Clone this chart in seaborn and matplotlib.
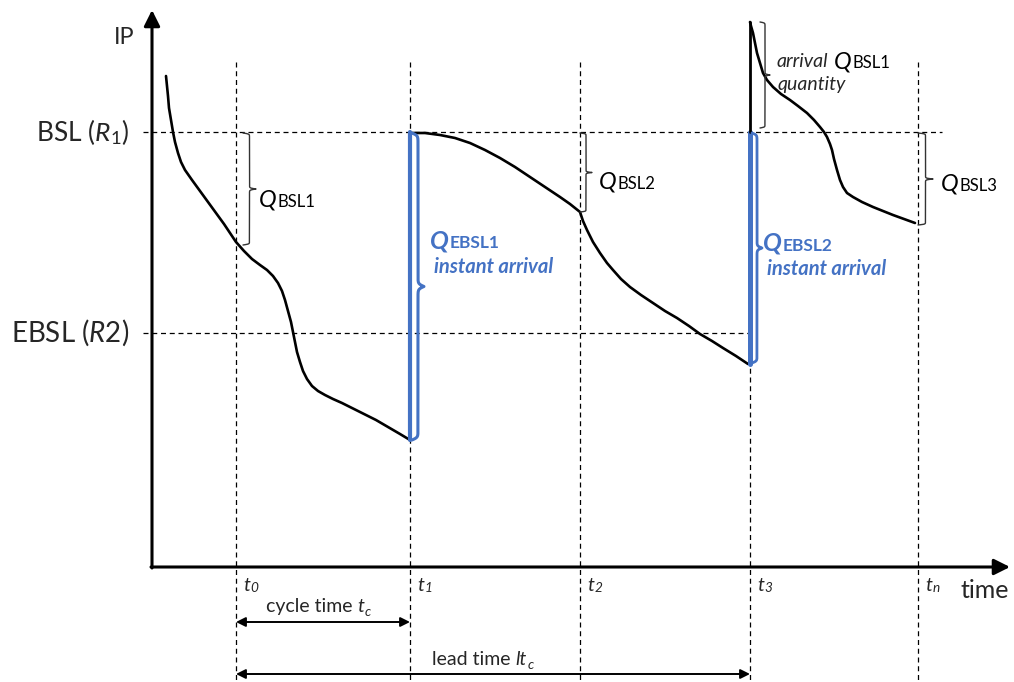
import numpy as np
import pandas as pd
import matplotlib
matplotlib.use("Agg")
import matplotlib.pyplot as plt
import seaborn as sns

# diagram drawn in picture units: x = time position, y = IP level (downwards)
t_pos = [236, 410, 580, 750, 918]
t_names = ["0", "1", "2", "3", "n"]
bsl_level = 132
ebsl_level = 333

seg1_x = [166, 167, 168, 169, 171, 173, 175, 178, 181, 185, 192, 200, 208, 216, 224, 230, 236,
          244, 252, 260, 267, 273, 278, 282, 285, 288, 291, 293, 295, 297, 300, 303, 307, 312, 318,
          325, 333, 342, 352, 364, 376, 388, 400, 410]
seg1_y = [76, 86, 96, 108, 120, 132, 142, 153, 162, 170, 180, 191, 202, 213, 224, 233, 242,
          251, 259, 265, 270, 276, 283, 291, 300, 311, 322, 332, 342, 352, 362, 371, 379, 386, 391,
          395, 399, 403, 408, 414, 420, 427, 434, 440]

seg2_x = [410, 425, 440, 455, 470, 485, 500, 515, 530, 545, 560, 570, 580, 583, 587, 593, 600, 607,
          613, 621, 630, 641, 653, 665, 677, 689, 700, 712, 723, 736, 748]
seg2_y = [133, 133, 135, 138, 143, 150, 158, 167, 177, 187, 197, 204, 212, 221, 230, 242, 253, 263,
          270, 279, 287, 295, 303, 311, 318, 326, 334, 341, 348, 356, 364]

seg3_x = [750, 751, 753, 755, 757, 760, 763, 767, 773, 781, 790, 798, 807, 814, 820, 824, 827, 830,
          832, 834, 837, 840, 843, 847, 853, 862, 873, 883, 893, 904, 915]
seg3_y = [22, 26, 33, 43, 53, 63, 73, 80, 87, 94, 100, 106, 113, 120, 127, 132, 137, 144,
          150, 159, 170, 180, 187, 193, 197, 202, 207, 211, 215, 219, 223]

blue = "#4472C4"

sns.set_style("white")
plt.rcParams["font.family"] = ["Lato", "DejaVu Sans"]
plt.rcParams["mathtext.fontset"] = "custom"
plt.rcParams["mathtext.rm"] = "Lato"
plt.rcParams["mathtext.it"] = "Lato:italic"
plt.rcParams["mathtext.bf"] = "Lato:bold"

fig = plt.figure(figsize=(10.14, 6.82), dpi=100)
ax = fig.add_axes([0, 0, 1, 1])
ax.set_xlim(0, 1014)
ax.set_ylim(682, 0)
ax.axis("off")


def brace(x0, y0, y1, w, color="#333333", lw=1.0):
    span = y1 - y0
    half = np.linspace(0, span / 2, 200)
    beta = 240.0 / span
    xh = 1 / (1 + np.exp(-beta * (half - half[0]))) + 1 / (1 + np.exp(-beta * (half - half[-1])))
    xs = np.concatenate([xh, xh[::-1]])
    ys = np.concatenate([half, half + span / 2])
    ax.plot(x0 + (xs - 0.5) * w, y0 + ys, color=color, lw=lw, solid_capstyle="round")


def qlabel(x, y, sub, size=17, subsize=12, color="black", weight="normal"):
    q = ax.text(x, y, "Q", fontsize=size, style="italic", weight=weight, color=color,
                ha="left", va="baseline")
    ax.annotate(sub, xy=(1, 0), xycoords=q, xytext=(0.5, 1), textcoords="offset points",
                fontsize=subsize, weight=weight, color=color, ha="left", va="bottom")
    return q


def tlabel(x, y, name, size=14):
    t = ax.text(x, y, "t", fontsize=size, style="italic", ha="left", va="baseline")
    ax.annotate(name, xy=(1, 0), xycoords=t, xytext=(0.5, 0), textcoords="offset points",
                fontsize=size * 0.7, style="italic", ha="left", va="bottom")


def with_sub(x, y, plain, ital, sub, size=14):
    p = ax.text(x, y, plain, fontsize=size, ha="left", va="baseline")
    it = ax.annotate(ital, xy=(1, 0), xycoords=p, xytext=(0, 0), textcoords="offset points",
                     fontsize=size, style="italic", ha="left", va="bottom")
    ax.annotate(sub, xy=(1, 0), xycoords=it, xytext=(0.3, -2.5), textcoords="offset points",
                fontsize=size * 0.7, style="italic", ha="left", va="bottom")


# guide lines
dash = dict(color="black", lw=0.9, ls=(0, (4, 3)))
ax.plot([143, 942], [bsl_level, bsl_level], **dash)
ax.plot([143, 752], [ebsl_level, ebsl_level], **dash)
for i, x in enumerate(t_pos):
    top = 132 if i == 3 else 62
    ax.plot([x, x], [top, 682], **dash)

# axes with arrows
ax.annotate("", xy=(152, 10), xytext=(152, 568),
            arrowprops=dict(arrowstyle="-|>", lw=2.2, color="black", mutation_scale=24, shrinkA=0, shrinkB=0))
ax.annotate("", xy=(1010, 567), xytext=(151, 567),
            arrowprops=dict(arrowstyle="-|>", lw=2.2, color="black", mutation_scale=24, shrinkA=0, shrinkB=0))

# inventory curves
for sx, sy in [(seg1_x, seg1_y), (seg2_x, seg2_y), (seg3_x, seg3_y)]:
    df = pd.DataFrame({"time": sx, "IP": sy})
    sns.lineplot(data=df, x="time", y="IP", sort=False, color="black", lw=1.9, ax=ax)

# arrivals
ax.plot([t_pos[1], t_pos[1]], [seg1_y[-1], bsl_level], color=blue, lw=3.0, solid_capstyle="round")
ax.plot([t_pos[3], t_pos[3]], [seg2_y[-1], bsl_level], color=blue, lw=3.6, solid_capstyle="round")
ax.plot([t_pos[3], t_pos[3]], [bsl_level, seg3_y[0]], color="black", lw=2.0)

# braces
brace(243, 133, 245, 13)
brace(580, 133, 212, 12)
brace(760, 22, 128, 10)
brace(918, 133, 225, 15)
brace(412, 133, 440, 12, color=blue, lw=2.2)
brace(752, 133, 363, 10, color=blue, lw=2.0)

# labels
ax.text(124, 38, "IP", fontsize=17, ha="center", va="center")
ax.text(129, bsl_level, r"BSL ($\mathit{R}_{\mathit{1}}$)", fontsize=19, ha="right", va="center")
ax.text(129, ebsl_level, r"EBSL ($\mathit{R2}$)", fontsize=20, ha="right", va="center")

qlabel(259, 207, "BSL1")
qlabel(599, 189, "BSL2")
qlabel(941, 191, "BSL3")
ax.text(777, 67, "arrival", fontsize=14, style="italic", ha="left", va="baseline")
qlabel(834, 68, "BSL1")
ax.text(778, 90, "quantity", fontsize=14, style="italic", ha="left", va="baseline")

qlabel(430, 248, "EBSL1", size=18, subsize=12.5, color=blue, weight="bold")
ax.text(434, 273, "instant arrival", fontsize=14.5, color=blue, style="italic", weight="bold",
        ha="left", va="baseline")
qlabel(763, 251, "EBSL2", size=18, subsize=12.5, color=blue, weight="bold")
ax.text(767, 275, "instant arrival", fontsize=14.5, color=blue, style="italic", weight="bold",
        ha="left", va="baseline")

for x, name in zip(t_pos, t_names):
    tlabel(x + 7, 591, name)
ax.text(985, 590, "time", fontsize=18, ha="center", va="center")

ax.annotate("", xy=(t_pos[0], 622), xytext=(t_pos[1], 622),
            arrowprops=dict(arrowstyle="<|-|>", lw=1.4, color="black", mutation_scale=14, shrinkA=0, shrinkB=0))
with_sub(266, 612, "cycle time ", "t", "c")

ax.annotate("", xy=(t_pos[0], 674), xytext=(t_pos[3], 674),
            arrowprops=dict(arrowstyle="<|-|>", lw=1.4, color="black", mutation_scale=14, shrinkA=0, shrinkB=0))
with_sub(432, 665, "lead time ", "lt", "c")

fig.savefig("out.png", dpi=100)
